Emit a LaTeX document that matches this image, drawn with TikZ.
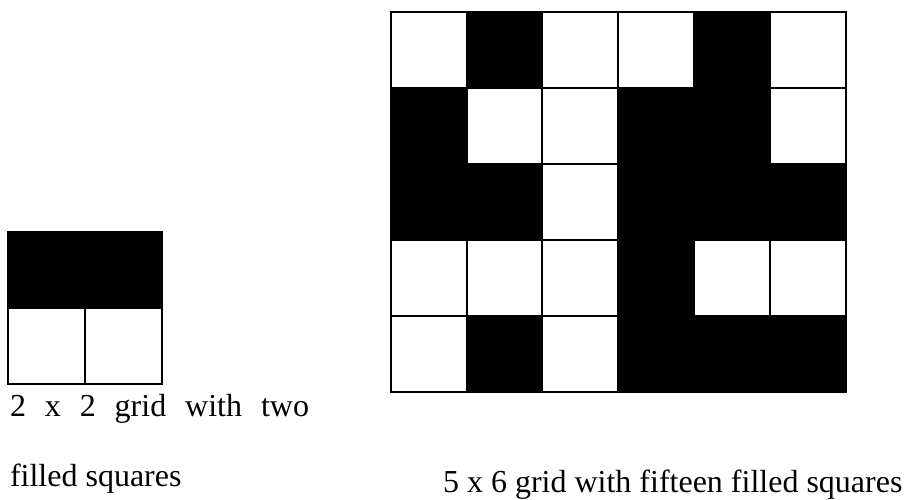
\documentclass[tikz,border=0pt]{standalone}
\usepackage{fontspec}
\setmainfont{Liberation Serif}

\begin{document}
\begin{tikzpicture}[x=1pt, y=-1pt, line width=2pt,
    % --- styles ---
    cell/.style={draw=black},
    filled/.style={fill=black},
    caption/.style={anchor=base west, inner sep=0pt, font=\fontsize{32}{38}\selectfont}
]
    \useasboundingbox (0,0) rectangle (905,499);

    % =========================================
    % 2 x 2 grid (top row filled)
    % =========================================
    \begin{scope}[shift={(8pt,-232pt)}, x=77pt, y=-76pt]
        \foreach \c in {0,1}
            \fill[filled] (\c,0) rectangle ++(1,1);
        \foreach \c in {0,1}
            \foreach \r in {0,1}
                \draw[cell] (\c,\r) rectangle ++(1,1);
    \end{scope}

    % =========================================
    % 5 x 6 grid (fifteen filled)
    % =========================================
    \begin{scope}[shift={(390.7pt,-12pt)}, x=75.8pt, y=-75.9pt]
        % filled cells: column/row
        \foreach \c/\r in {1/0, 4/0,
                           0/1, 3/1, 4/1,
                           0/2, 1/2, 3/2, 4/2, 5/2,
                           3/3,
                           1/4, 3/4, 4/4, 5/4}
            \fill[filled] (\c,\r) rectangle ++(1,1);
        \foreach \c in {0,...,5}
            \foreach \r in {0,...,4}
                \draw[cell] (\c,\r) rectangle ++(1,1);
    \end{scope}

    % captions
    \node[caption] (capsmall) at (9,416) {\makebox[299pt][s]{2 x 2 grid with two}};
    \node[caption] (capsmallb) at (9,486) {filled squares};
    \node[caption] (capbig) at (442,492) {5 x 6 grid with fifteen filled squares};

\end{tikzpicture}
\end{document}
